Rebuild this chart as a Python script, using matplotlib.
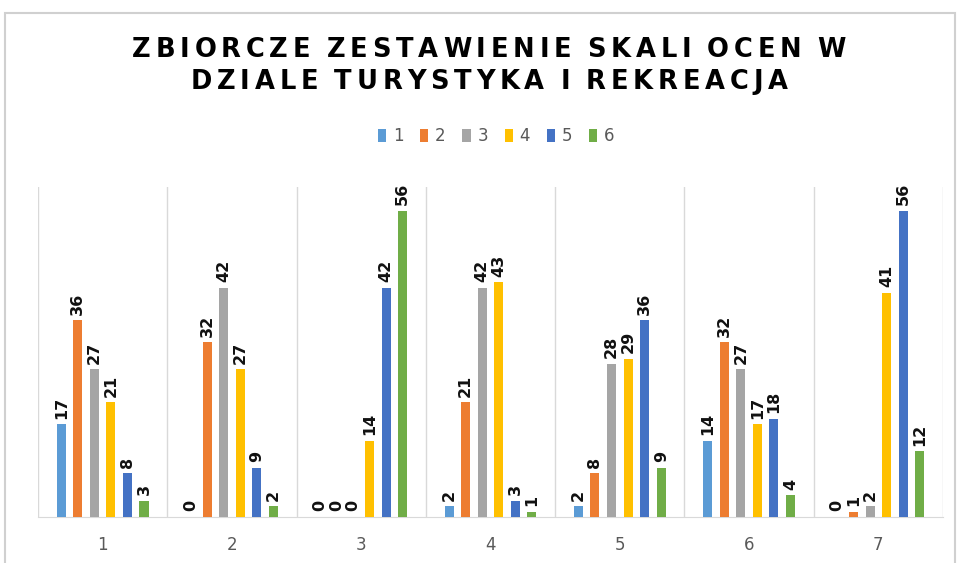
import numpy as np
import matplotlib.pyplot as plt
from matplotlib.patches import Rectangle

# Data
categories = ['1', '2', '3', '4', '5', '6', '7']
series_names = ['1', '2', '3', '4', '5', '6']
s1 = [17, 0, 0, 2, 2, 14, 0]
s2 = [36, 32, 0, 21, 8, 32, 1]
s3 = [27, 42, 0, 42, 28, 27, 2]
s4 = [21, 27, 14, 43, 29, 17, 41]
s5 = [8, 9, 42, 3, 36, 18, 56]
s6 = [3, 2, 56, 1, 9, 4, 12]
series = [s1, s2, s3, s4, s5, s6]
colors = ['#5B9BD5', '#ED7D31', '#A5A5A5', '#FFC000', '#4472C4', '#70AD47']

W, H = 958, 563
fig = plt.figure(figsize=(W / 100, H / 100), dpi=100)
ax = fig.add_axes([38 / W, 1 - 517 / H, (943 - 38) / W, (517 - 187) / H])

x = np.arange(len(categories))
step = 0.128
width = 0.07
for i, vals in enumerate(series):
    pos = x + (i - 2.5) * step
    ax.bar(pos, vals, width=width, color=colors[i], label=series_names[i], zorder=3)
    for p, v in zip(pos, vals):
        ax.annotate(str(v), (p, v), xytext=(0, 4), textcoords='offset points',
                    rotation=90, ha='center', va='bottom', fontsize=11.5,
                    fontweight='bold', color='#111111')

ax.set_xlim(-0.5, len(categories) - 0.5)
ax.set_ylim(0, 60.4)
ax.set_yticks([])
ax.set_xticks(x)
ax.set_xticklabels(categories, fontsize=12, color='#595959')
ax.tick_params(axis='x', length=0, pad=14)
# category gridlines at boundaries
for b in np.arange(-0.5, len(categories), 1.0):
    ax.axvline(b, color='#D9D9D9', lw=1, zorder=1)
for s in ['top', 'right', 'left']:
    ax.spines[s].set_visible(False)
ax.spines['bottom'].set_color('#D9D9D9')

ax.legend(loc='center', bbox_to_anchor=(496 / W, 1 - 136 / H), bbox_transform=fig.transFigure,
          ncol=6, frameon=False, fontsize=12, handlelength=0.5, handleheight=0.8,
          handletextpad=0.4, columnspacing=1.0, labelcolor='#595959')

# outer chart border
fig.patches.append(Rectangle((5 / W, -0.02), 950 / W, 1 - 13 / H + 0.02,
                             transform=fig.transFigure, fill=False,
                             edgecolor='#D0D0D0', lw=1.5))

# letter-spaced title
def spaced_text(s, cx, cy, size, tracking):
    r = fig.canvas.get_renderer()
    objs, widths = [], []
    for ch in s:
        t = fig.text(0, cy, ch, fontsize=size, fontweight='bold', va='center', ha='left')
        w = t.get_window_extent(renderer=r).width if ch != ' ' else size * 0.35
        objs.append(t)
        widths.append(w)
    total = sum(widths) + tracking * (len(s) - 1)
    xp = cx * W - total / 2
    for t, w in zip(objs, widths):
        t.set_x(xp / W)
        xp += w + tracking

spaced_text('ZBIORCZE ZESTAWIENIE SKALI OCEN W', 489 / W, 1 - 50 / H, 18.5, 4.8)
spaced_text('DZIALE TURYSTYKA I REKREACJA', 489 / W, 1 - 82 / H, 18.5, 4.8)

fig.savefig('out.png', dpi=100)
